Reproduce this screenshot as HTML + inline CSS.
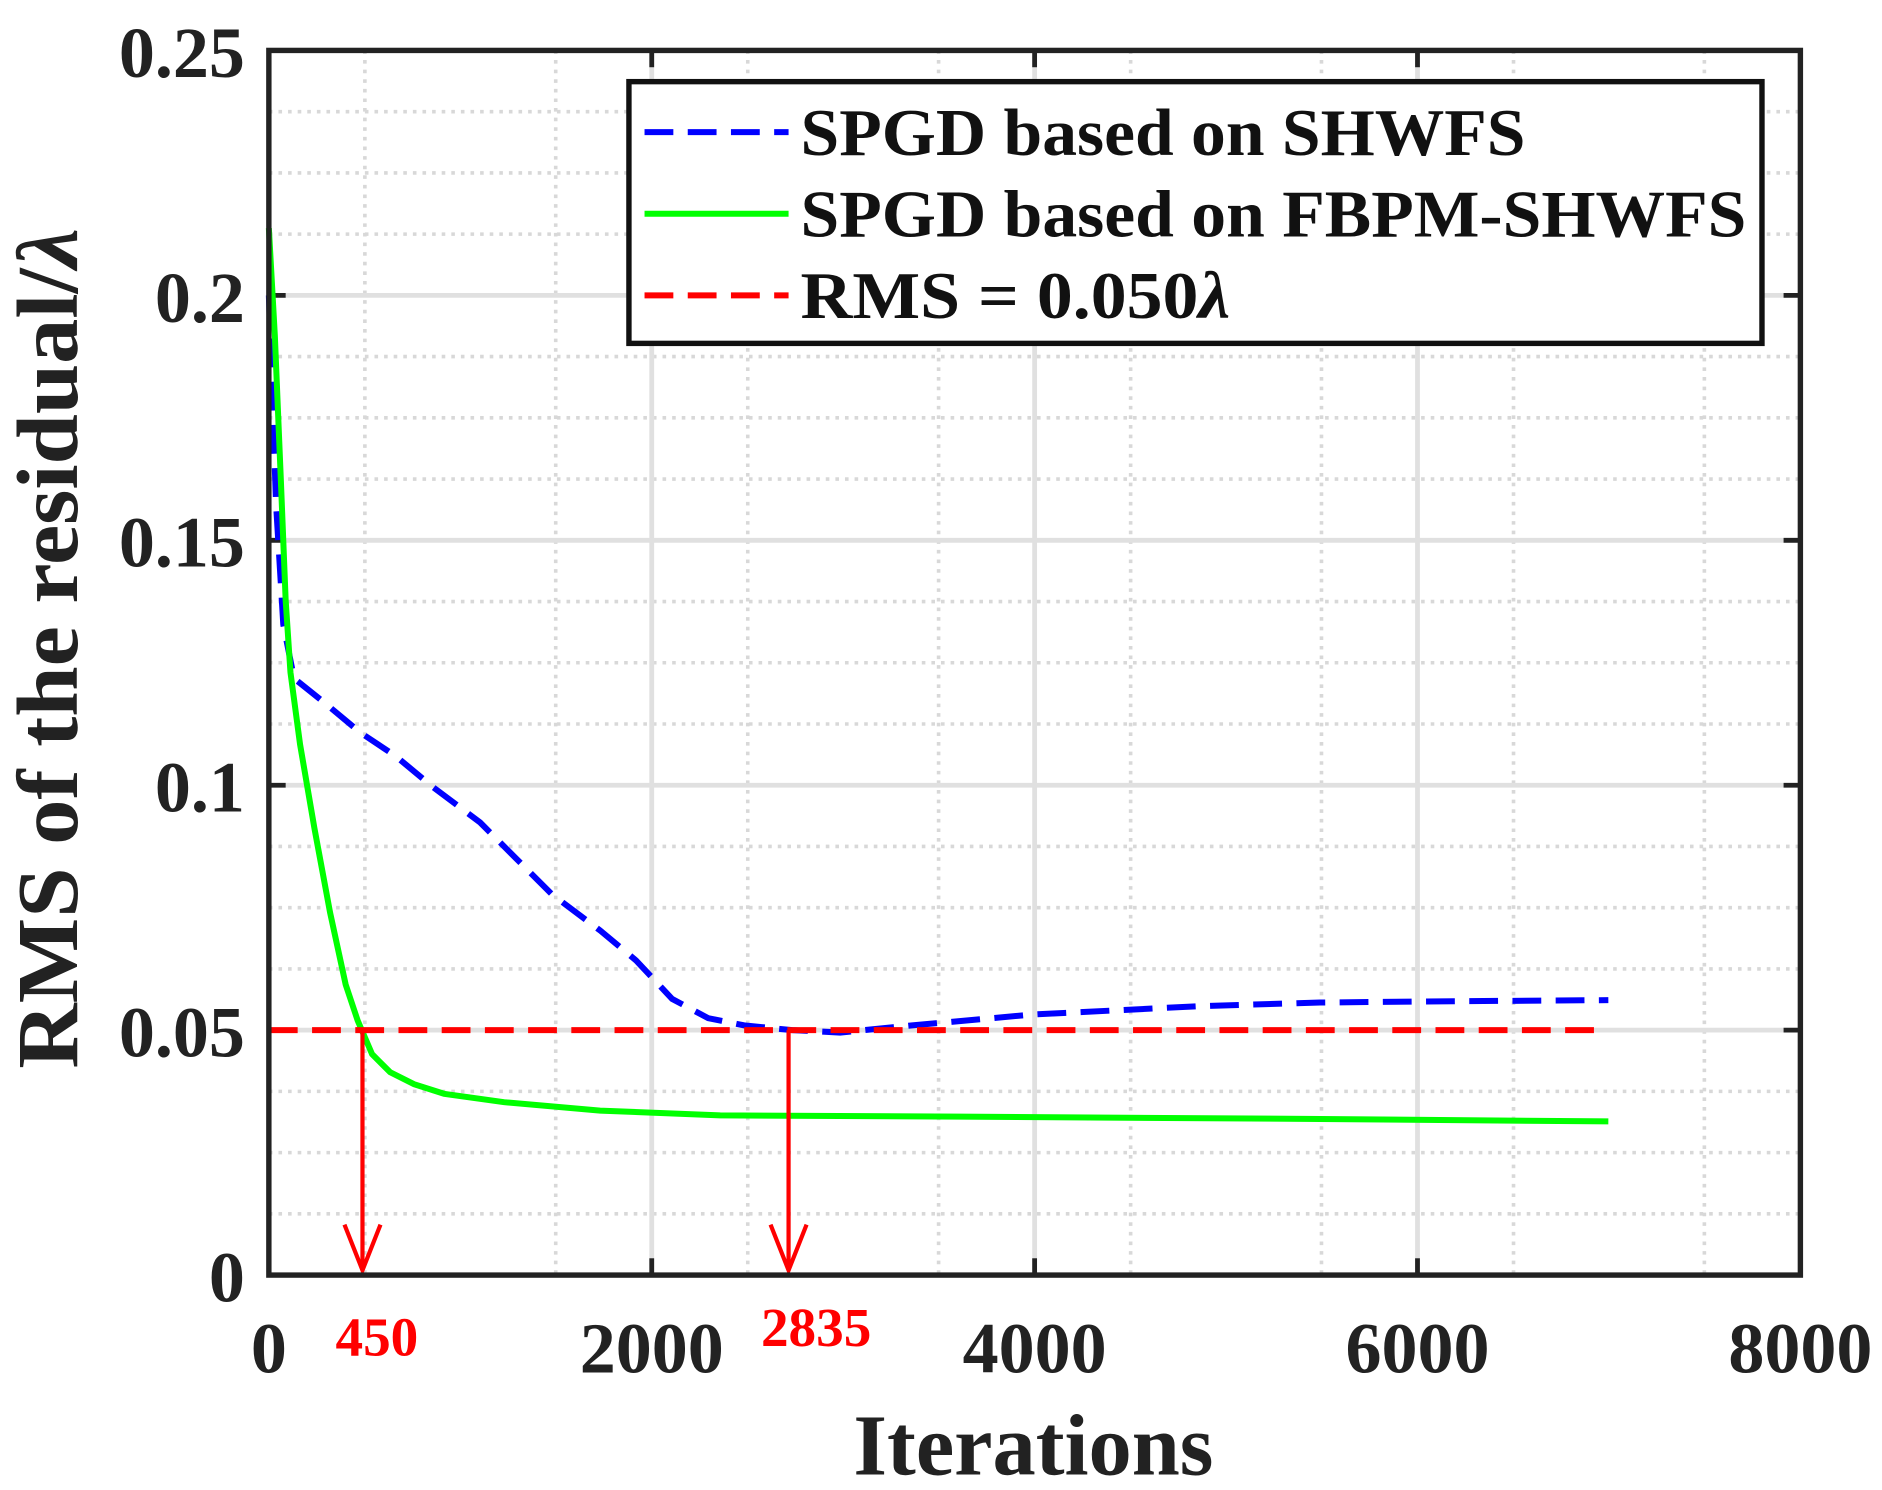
<!DOCTYPE html>
<html><head><meta charset="utf-8"><style>html,body{margin:0;padding:0;background:#fff}svg{display:block}</style></head>
<body>
<svg width="1882" height="1490" viewBox="0 0 1568 1241" preserveAspectRatio="none" xmlns="http://www.w3.org/2000/svg" font-family="Liberation Serif, serif" font-weight="bold">
<rect width="1568" height="1241" fill="#fff"/>
<g stroke="#d8d8d8" stroke-width="3" stroke-dasharray="3,5">
<line x1="304" y1="42" x2="304" y2="1062"/><line x1="463" y1="42" x2="463" y2="1062"/>
<line x1="623" y1="42" x2="623" y2="1062"/><line x1="782" y1="42" x2="782" y2="1062"/>
<line x1="942" y1="42" x2="942" y2="1062"/><line x1="1101" y1="42" x2="1101" y2="1062"/>
<line x1="1261" y1="42" x2="1261" y2="1062"/><line x1="1420" y1="42" x2="1420" y2="1062"/>
<line x1="224" y1="93" x2="1500" y2="93"/><line x1="224" y1="144" x2="1500" y2="144"/><line x1="224" y1="195" x2="1500" y2="195"/>
<line x1="224" y1="297" x2="1500" y2="297"/><line x1="224" y1="348" x2="1500" y2="348"/><line x1="224" y1="399" x2="1500" y2="399"/>
<line x1="224" y1="501" x2="1500" y2="501"/><line x1="224" y1="552" x2="1500" y2="552"/><line x1="224" y1="603" x2="1500" y2="603"/>
<line x1="224" y1="705" x2="1500" y2="705"/><line x1="224" y1="756" x2="1500" y2="756"/><line x1="224" y1="807" x2="1500" y2="807"/>
<line x1="224" y1="909" x2="1500" y2="909"/><line x1="224" y1="960" x2="1500" y2="960"/><line x1="224" y1="1011" x2="1500" y2="1011"/>
</g>
<g stroke="#e0e0e0" stroke-width="4">
<line x1="543" y1="42" x2="543" y2="1062"/><line x1="862" y1="42" x2="862" y2="1062"/><line x1="1181" y1="42" x2="1181" y2="1062"/>
<line x1="224" y1="246" x2="1500" y2="246"/><line x1="224" y1="450" x2="1500" y2="450"/><line x1="224" y1="654" x2="1500" y2="654"/><line x1="224" y1="858" x2="1500" y2="858"/>
</g>
<g stroke="#222" stroke-width="4">
<line x1="543" y1="1062" x2="543" y2="1048"/><line x1="862" y1="1062" x2="862" y2="1048"/><line x1="1181" y1="1062" x2="1181" y2="1048"/>
<line x1="543" y1="42" x2="543" y2="56"/><line x1="862" y1="42" x2="862" y2="56"/><line x1="1181" y1="42" x2="1181" y2="56"/>
<line x1="224" y1="246" x2="238" y2="246"/><line x1="224" y1="450" x2="238" y2="450"/><line x1="224" y1="654" x2="238" y2="654"/><line x1="224" y1="858" x2="238" y2="858"/>
<line x1="1500" y1="246" x2="1486" y2="246"/><line x1="1500" y1="450" x2="1486" y2="450"/><line x1="1500" y1="654" x2="1486" y2="654"/><line x1="1500" y1="858" x2="1486" y2="858"/>
</g>
<polyline fill="none" stroke="#0000ff" stroke-width="5" stroke-dasharray="24,12" points="224,246 230,420 236,520 245,565 270,585 300,610 330,630 360,655 400,685 430,715 460,745 500,775 530,800 560,832 590,848 620,854 660,858 700,860 760,854 860,845 1000,838 1100,835 1200,834 1340,833"/>
<polyline fill="none" stroke="#00ff00" stroke-width="5" points="224,190 229,280 234,400 238,500 242,560 250,620 262,690 275,760 288,820 298,850 310,878 325,893 345,903 370,911 420,918 500,925 600,929 800,930 1100,932 1340,934"/>
<line x1="224" y1="858" x2="1340" y2="858" stroke="#ff0000" stroke-width="5" stroke-dasharray="24,12"/>
<g stroke="#ff0000" stroke-width="3.5" fill="none">
<line x1="302" y1="858" x2="302" y2="1058"/><polyline points="287,1020 302,1058 317,1020"/>
<line x1="657" y1="858" x2="657" y2="1058"/><polyline points="642,1020 657,1058 672,1020"/>
</g>
<rect x="224" y="42" width="1276" height="1020" fill="none" stroke="#222" stroke-width="4.5"/>
<rect x="524" y="68" width="944" height="218" fill="#fff" stroke="#111" stroke-width="4.5"/>
<line x1="537" y1="110" x2="657" y2="110" stroke="#0000ff" stroke-width="5" stroke-dasharray="24,12"/>
<line x1="537" y1="178" x2="657" y2="178" stroke="#00ff00" stroke-width="5"/>
<line x1="537" y1="246" x2="657" y2="246" stroke="#ff0000" stroke-width="5" stroke-dasharray="24,12"/>
<g font-size="56" fill="#111">
<text x="667" y="129" textLength="604" lengthAdjust="spacingAndGlyphs">SPGD based on SHWFS</text>
<text x="667" y="197" textLength="788" lengthAdjust="spacingAndGlyphs">SPGD based on FBPM-SHWFS</text>
<text x="667" y="265" textLength="358" lengthAdjust="spacingAndGlyphs">RMS = 0.050<tspan font-style="italic">λ</tspan></text>
</g>
<g font-size="60" fill="#222" text-anchor="end">
<text x="204" y="64">0.25</text><text x="204" y="268">0.2</text><text x="204" y="472">0.15</text>
<text x="204" y="676">0.1</text><text x="204" y="880">0.05</text><text x="204" y="1084">0</text>
</g>
<g font-size="60" fill="#222" text-anchor="middle">
<text x="224" y="1143">0</text><text x="543" y="1143">2000</text><text x="862" y="1143">4000</text>
<text x="1181" y="1143">6000</text><text x="1500" y="1143">8000</text>
</g>
<g font-size="46" fill="#ff0000" text-anchor="middle">
<text x="314" y="1129">450</text><text x="680" y="1121">2835</text>
</g>
<text x="861" y="1228" font-size="72" fill="#222" text-anchor="middle">Iterations</text>
<text transform="translate(64,540) rotate(-90)" font-size="72" fill="#222" text-anchor="middle" textLength="700" lengthAdjust="spacingAndGlyphs">RMS of the residual/<tspan font-style="italic">λ</tspan></text>
</svg>
</body></html>
